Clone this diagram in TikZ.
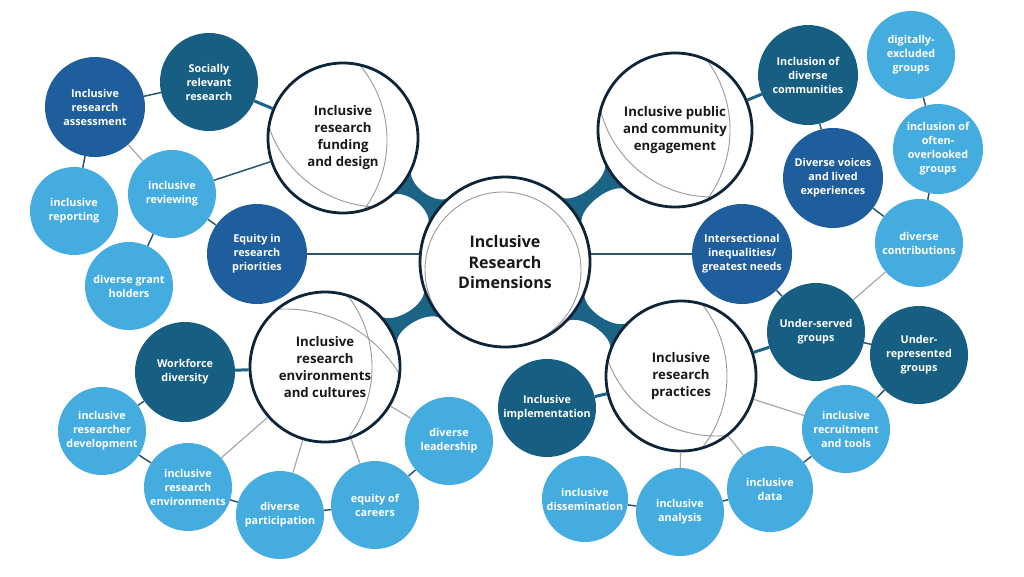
\documentclass[tikz,border=0pt]{standalone}
\usepackage{fontspec}
\setmainfont{Open Sans}
\usetikzlibrary{calc}
\definecolor{cblue}{HTML}{1F5E9C}
\definecolor{cteal}{HTML}{175E83}
\definecolor{clight}{HTML}{45ACE0}
\definecolor{cnavy}{HTML}{0E2438}
\definecolor{cfil}{HTML}{1B6486}
\definecolor{cdark}{HTML}{2A566F}
\definecolor{cgray}{HTML}{A8A8A8}
\pgfdeclarelayer{back}
\pgfdeclarelayer{bg}
\pgfsetlayers{back,bg,main}
\tikzset{
  sat/.style={circle, fill=#1, text=white, align=center, inner sep=0pt,
    font=\fontsize{10.8}{14}\selectfont\bfseries},
  dsat/.style={sat=#1, minimum size=100pt},
  lsat/.style={sat=clight, minimum size=88pt},
  big/.style={circle, draw=cnavy, line width=2.8pt, align=center, inner sep=0pt,
    text=black!90, font=\fontsize{13.2}{17}\selectfont\bfseries, minimum size=150pt},
  dline/.style={draw=cdark, line width=1.5pt},
  gline/.style={draw=cgray, line width=1.2pt},
  tline/.style={draw=cfil, line width=3pt},
  fil/.style={fill=cfil},
  arcline/.style={draw=gray!80, line width=0.9pt},
}
% fillet between two circles: #1 A, #2 B, #3 radius A, #4 radius B
\newcommand{\fillet}[4]{%
  \fill[fil] ($(#1)!#3!14:(#2)$)
    .. controls ($(#1)!#3!(#2)!1pt!90:(#2)$) and ($(#2)!#4!(#1)!1pt!-90:(#1)$) ..
    ($(#2)!#4!-15:(#1)$) -- ($(#2)!#4!15:(#1)$)
    .. controls ($(#2)!#4!(#1)!1pt!90:(#1)$) and ($(#1)!#3!(#2)!1pt!-90:(#2)$) ..
    ($(#1)!#3!-14:(#2)$) -- cycle;}
\begin{document}
\begin{tikzpicture}[x=1pt,y=-1pt]
\begin{pgfonlayer}{back}
\fill[white] (0,0) rectangle (1024,576);
\end{pgfonlayer}
\useasboundingbox (0,0) rectangle (1024,576);
% main circles
\node[big, minimum size=170pt, font=\fontsize{16}{20.5}\selectfont\bfseries] (c) at (505,262) {Inclusive\\Research\\Dimensions};
\node[big] (fund) at (343,138) {Inclusive\\research\\funding\\and design};
\node[big, minimum size=154pt] (eng) at (675,130) {Inclusive public\\and community\\engagement};
\node[big] (env) at (325,367) {Inclusive\\research\\environments\\and cultures};
\node[big] (prac) at (681,376) {Inclusive\\research\\practices};
% funding group
\node[dsat=cteal, minimum size=98pt] (soc) at (209,82) {Socially\\relevant\\research};
\node[dsat=cblue] (assess) at (95,107) {Inclusive\\research\\assessment};
\node[lsat] (review) at (172,194) {inclusive\\reviewing};
\node[lsat] (report) at (74,211) {inclusive\\reporting};
\node[dsat=cblue] (equity) at (257,254) {Equity in\\research\\priorities};
\node[lsat] (grant) at (129,286) {diverse grant\\holders};
% engagement group
\node[dsat=cteal] (incdiv) at (808,75) {Inclusion of\\diverse\\communities};
\node[lsat] (digit) at (911,55) {digitally-\\excluded\\groups};
\node[lsat, minimum size=90pt] (overlook) at (938,149) {inclusion of\\often-\\overlooked\\groups};
\node[dsat=cblue] (voices) at (833,178) {Diverse voices\\and lived\\experiences};
\node[lsat] (contrib) at (919,243) {diverse\\contributions};
\node[dsat=cblue] (inter) at (742,254) {Intersectional\\inequalities/\\greatest needs};
% environments group
\node[dsat=cteal] (work) at (185,372) {Workforce\\diversity};
\node[lsat] (resdev) at (102,431) {inclusive\\researcher\\development};
\node[lsat] (resenv) at (188,487) {inclusive\\research\\environments};
\node[lsat] (part) at (280,515) {diverse\\participation};
\node[lsat] (careers) at (375,505) {equity of\\careers};
\node[lsat] (lead) at (449,441) {diverse\\leadership};
% practices group
\node[dsat=cteal, minimum size=98pt] (served) at (816,332) {Under-served\\groups};
\node[dsat=cteal, minimum size=98pt] (repr) at (919,355) {Under-\\represented\\groups};
\node[lsat] (recruit) at (846,429) {inclusive\\recruitment\\and tools};
\node[dsat=cteal, minimum size=98pt] (impl) at (547,408) {Inclusive\\implementation};
\node[lsat, minimum size=86pt] (dissem) at (585,499) {inclusive\\dissemination};
\node[lsat] (analysis) at (680,512) {inclusive\\analysis};
\node[lsat, minimum size=86pt] (data) at (770,489) {inclusive\\data};
% background: fillets, white disks, decorative arcs
\begin{pgfonlayer}{bg}
\fillet{c.center}{fund.center}{85pt}{75pt}
\fillet{c.center}{eng.center}{85pt}{77pt}
\fillet{c.center}{env.center}{85pt}{75pt}
\fillet{c.center}{prac.center}{85pt}{75pt}
\fill[white] (c.center) circle (85);
\fill[white] (fund.center) circle (75);
\fill[white] (eng.center) circle (77);
\fill[white] (env.center) circle (75);
\fill[white] (prac.center) circle (75);
\begin{scope}
\clip (c.center) circle (84);
\draw[arcline] ($(c.center)+(-2,8)$) circle (78);
\end{scope}
\begin{scope}
\clip (fund.center) circle (74);
\draw[arcline] ($(fund.center)+(-73,2)$) circle (117);
\draw[arcline] ($(fund.center)+(37,-48)$) circle (117);
\end{scope}
\begin{scope}
\clip (eng.center) circle (76);
\draw[arcline] ($(eng.center)+(-62,0)$) circle (117);
\draw[arcline] ($(eng.center)+(37,-48)$) circle (115);
\end{scope}
\begin{scope}
\clip (env.center) circle (74);
\draw[arcline] ($(env.center)+(-70,0)$) circle (117);
\draw[arcline] ($(env.center)+(-40,75)$) circle (133);
\end{scope}
\begin{scope}
\clip (prac.center) circle (74);
\draw[arcline] ($(prac.center)+(-70,0)$) circle (116);
\draw[arcline] ($(prac.center)+(35,-55)$) circle (115);
\end{scope}
\end{pgfonlayer}
% connectors: funding group
\draw[dline] (soc) -- (assess);
\draw[tline] (soc) -- (fund);
\draw[dline] (assess) -- (report);
\draw[gline] (assess) -- (review);
\draw[dline] (review) -- (fund);
\draw[dline] (review) -- (equity);
\draw[dline] (review) -- (grant);
\draw[dline] (equity) -- (equity -| c.west);
% engagement group
\draw[tline] (eng) -- (incdiv);
\draw[dline] (incdiv) -- (voices);
\draw[dline] (digit) -- (overlook);
\draw[dline] (overlook) -- (contrib);
\draw[dline] (voices) -- (contrib);
\draw[dline] (inter) -- (inter -| c.east);
\draw[gline] (contrib) -- (served);
\draw[dline] (inter) -- (served);
% environments group
\draw[tline] (work) -- (env);
\draw[dline] (work) -- (resdev);
\draw[dline] (resdev) -- (resenv);
\draw[gline] (resenv) -- (env);
\draw[dline] (resenv) -- (part);
\draw[gline] (part) -- (env);
\draw[dline] (part) -- (careers);
\draw[gline] (careers) -- (env);
\draw[dline] (careers) -- (lead);
\draw[gline] (lead) -- (env);
% practices group
\draw[tline] (prac) -- (served);
\draw[dline] (served) -- (repr);
\draw[dline] (repr) -- (recruit);
\draw[gline] (prac) -- (recruit);
\draw[dline] (recruit) -- (data);
\draw[gline] (prac) -- (data);
\draw[gline] (prac) -- (analysis);
\draw[dline] (analysis) -- (data);
\draw[dline] (dissem) -- (analysis);
\draw[tline] (prac) -- (impl);
\end{tikzpicture}
\end{document}
